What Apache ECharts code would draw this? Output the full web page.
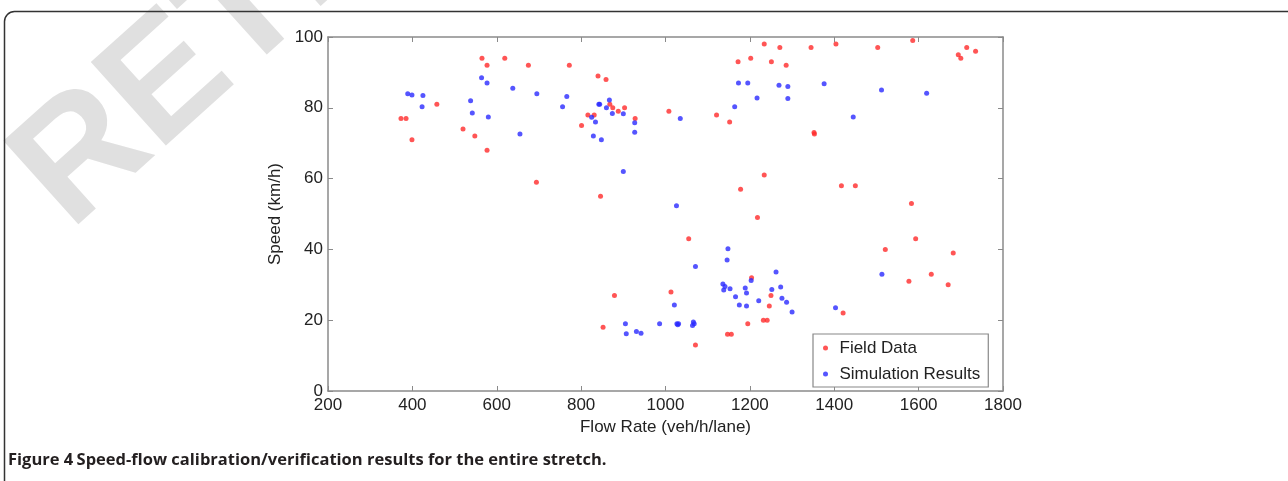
<!DOCTYPE html>
<html><head><meta charset="utf-8">
<script src="https://cdn.jsdelivr.net/npm/echarts@6/dist/echarts.min.js"></script>
<style>html,body{margin:0;padding:0;background:#fff}#c{width:1288px;height:481px}</style>
</head><body><div id="c"></div>
<script>
// Flow rate (veh/h/lane), speed (km/h)
const fieldData = [
[373,77],[385,77],[399,71],[458,81],[520,74],[548,72],[565,94],[577,92],[577,68],[619,94],
[675,92],[694,59],[772,92],[801,75],[816,78],[831,78],[840,89],[846,55],[852,18],[859,88],
[868,81],[875,80],[879,27],[888,79],[903,80],[928,77],
[1008,79],[1013,28],[1055,43],[1071,13],[1121,78],[1147,16],[1152,76],[1156,16],[1172,93],
[1178,57],[1195,19],[1202,94],[1204,32],[1218,49],[1232,20],[1234,98],[1234,61],[1241,20],
[1246,24],[1250,27],[1251,93],[1271,97],[1286,92],[1345,97],[1352,73],[1353,72.6],[1404,98],
[1417,58],[1421,22],[1450,58],[1503,97],[1521,40],[1577,31],[1583,53],[1586,99],[1593,43],
[1630,33],[1670,30],[1682,39],[1694,95],[1700,94],[1714,97],[1735,96]
];
const simData = [
[389,84],[399,83.6],[425,83.5],[423,80.3],[538,82],[542,78.5],[564,88.5],[577,87],[580,77.4],
[638,85.5],[655,72.6],[695,84],[756,80.3],[766,83.2],[825,77.3],[829,72],[834,76],[842,81],
[844,81],[848,71],[860,80],[867,82.2],[874,78.4],[900,78.3],[900,62],[927,75.8],[927,73.1],
[905,19],[907,16.2],[931,16.8],[942,16.3],[986,19],[1021,24.3],[1026,52.3],[1027,19],
[1029,18.7],[1031,19],[1035,77],[1064,18.5],[1066,19.5],[1068,19],[1071,35.2],[1136,30.2],
[1138,28.5],[1141,29.5],[1146,37],[1148,40.2],[1153,28.9],[1164,80.3],[1166,26.6],[1173,87],
[1175,24.3],[1189,29.1],[1192,27.7],[1192,24],[1195,87],[1203,31.2],[1217,82.8],[1221,25.5],
[1252,28.7],[1262,33.6],[1269,86.4],[1273,29.4],[1276,26.2],[1287,25.1],[1290,86],[1290,82.6],
[1300,22.3],[1376,86.8],[1403,23.5],[1445,77.4],[1512,85],[1513,33],[1619,84.1]
];
const seriesNames = ['Field Data', 'Simulation Results'];
const xTitle = 'Flow Rate (veh/h/lane)';
const yTitle = 'Speed (km/h)';
const caption = 'Speed-flow calibration/verification results for the entire stretch.';
const captionLabel = 'Figure 4';
const watermark = 'RETRACTED';

const FONT = '"Liberation Sans", Arial, sans-serif';
const axisCol = '#8a8a8a';
const chart = echarts.init(document.getElementById('c'), null, {renderer:'canvas'});
const baseAxis = {
  axisLine:{show:true, onZero:false, lineStyle:{color:axisCol, width:1.5}},
  axisTick:{show:true, inside:true, length:5, lineStyle:{color:axisCol, width:1}},
  splitLine:{show:false}
};
const plain = v => String(v);

// watermark: letters placed one by one along a rotated baseline
const WM_SIZE = 163, WM_ANG = 0.733;
const wmFont = 'bold ' + WM_SIZE + 'px "Liberation Sans", Arial';
const mctx = document.createElement('canvas').getContext('2d');
mctx.font = wmFont;
const bx = Math.cos(WM_ANG), by = -Math.sin(WM_ANG);   // baseline direction
const ux = by, uy = -bx;                                  // "up" direction
const P0 = [78, 240], midOff = 0.3465 * WM_SIZE;
let dist = 0;
const wmGraphics = watermark.split('').map(ch => {
  const w = mctx.measureText(ch).width;
  const d = dist + w / 2;
  dist += w;
  return {type:'text', z:-10, rotation:WM_ANG,
    x: P0[0] + d * bx + midOff * ux, y: P0[1] + d * by + midOff * uy,
    style:{text:ch, font:wmFont, fill:'#e0e0e0', align:'center', verticalAlign:'middle'}};
});

chart.setOption({
  animation:false,
  backgroundColor:'#fff',
  graphic: wmGraphics.concat([
    {type:'rect', z:-5, shape:{x:4.5, y:11.5, width:1310, height:520, r:10},
     style:{fill:'none', stroke:'#333', lineWidth:1.5}},
    {type:'text', x:8, y:460, z:10,
     style:{text:'{b|'+captionLabel+'} {n|'+caption+'}', verticalAlign:'middle',
       rich:{b:{fontFamily:'Open Sans', fontWeight:'bold', fontSize:16.5, fill:'#231f20'},
             n:{fontFamily:'Open Sans', fontWeight:'bold', fontSize:16.5, fill:'#231f20'}}}}
  ]),
  grid:{left:328, top:37, right:285, bottom:90, containLabel:false},
  legend:{
    data:seriesNames, orient:'vertical', left:813, top:334,
    padding:[5,8,4,10], itemGap:8, itemWidth:18, itemHeight:5, icon:'circle',
    backgroundColor:'#fff', borderColor:'#888', borderWidth:1.2, borderRadius:0,
    textStyle:{fontFamily:FONT, fontSize:17, color:'#222', lineHeight:18}
  },
  xAxis:[
    Object.assign({}, baseAxis, {type:'value', min:200, max:1800, interval:200, position:'bottom',
      name:xTitle, nameLocation:'middle', nameGap:27,
      nameTextStyle:{fontFamily:FONT, fontSize:17, color:'#222', verticalAlign:'top'},
      axisLabel:{fontFamily:FONT, fontSize:17, color:'#222', margin:6, formatter:plain}}),
    Object.assign({}, baseAxis, {type:'value', min:200, max:1800, interval:200, position:'top',
      axisLabel:{show:false}})
  ],
  yAxis:[
    Object.assign({}, baseAxis, {type:'value', min:0, max:100, interval:20, position:'left',
      name:yTitle, nameLocation:'middle', nameGap:37, nameRotate:90,
      nameTextStyle:{fontFamily:FONT, fontSize:17, color:'#222'},
      axisLabel:{fontFamily:FONT, fontSize:17, color:'#222', margin:5, formatter:plain}}),
    Object.assign({}, baseAxis, {type:'value', min:0, max:100, interval:20, position:'right',
      axisLabel:{show:false}})
  ],
  series:[
    {name:seriesNames[0], type:'scatter', data:fieldData, symbol:'circle', symbolSize:5,
     itemStyle:{color:'#ff2a2a'}, xAxisIndex:0, yAxisIndex:0},
    {name:seriesNames[1], type:'scatter', data:simData, symbol:'circle', symbolSize:5,
     itemStyle:{color:'#2a2aff'}, xAxisIndex:0, yAxisIndex:0}
  ]
});
</script></body></html>
